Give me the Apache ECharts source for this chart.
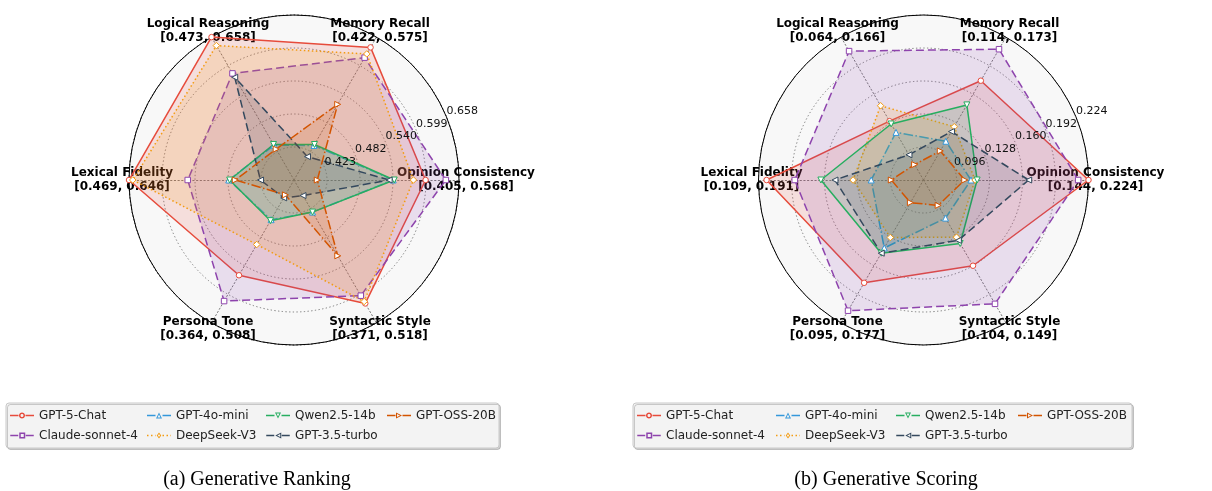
<!DOCTYPE html>
<html>
<head>
<meta charset="utf-8">
<script src="https://cdn.jsdelivr.net/npm/echarts@6/dist/echarts.min.js"></script>
<style>
  html, body { margin: 0; padding: 0; background: #fff; }
  #chart { width: 1212px; height: 491px; }
</style>
</head>
<body>
<div id="chart"></div>
<script>
// Radar axes, counter-clockwise from the right
const dims = ['Opinion Consistency', 'Memory Recall', 'Logical Reasoning', 'Lexical Fidelity', 'Persona Tone', 'Syntactic Style'];
const models = ['GPT-5-Chat', 'Claude-sonnet-4', 'GPT-4o-mini', 'DeepSeek-V3', 'Qwen2.5-14b', 'GPT-3.5-turbo', 'GPT-OSS-20B'];

// Per-axis ranges
const rankLow   = [0.405, 0.422, 0.473, 0.469, 0.364, 0.371];
const rankHigh  = [0.568, 0.575, 0.658, 0.646, 0.508, 0.518];
const scoreLow  = [0.144, 0.114, 0.064, 0.109, 0.095, 0.104];
const scoreHigh = [0.224, 0.173, 0.166, 0.191, 0.177, 0.149];

// Ring labels (rings at 20% steps of the radius)
const rankTicks  = ['', '0.423', '0.482', '0.540', '0.599', '0.658'];
const scoreTicks = ['', '0.096', '0.128', '0.160', '0.192', '0.224'];

// (a) Generative Ranking
const rankGPT5     = [0.535, 0.564, 0.658, 0.646, 0.460, 0.498];
const rankClaude   = [0.555, 0.553, 0.611, 0.583, 0.486, 0.490];
const rankGPT4oMini= [0.503, 0.459, 0.518, 0.539, 0.404, 0.404];
const rankDeepSeek = [0.523, 0.557, 0.647, 0.642, 0.429, 0.496];
const rankQwen     = [0.504, 0.460, 0.519, 0.538, 0.405, 0.404];
const rankGPT35    = [0.499, 0.447, 0.606, 0.505, 0.382, 0.387];
const rankGPTOSS   = [0.428, 0.503, 0.513, 0.532, 0.379, 0.449];

// (b) Generative Scoring
const scoreGPT5     = [0.224, 0.155, 0.106, 0.187, 0.154, 0.131];
const scoreClaude   = [0.219, 0.168, 0.156, 0.173, 0.170, 0.143];
const scoreGPT4oMini= [0.167, 0.130, 0.098, 0.135, 0.134, 0.116];
const scoreDeepSeek = [0.169, 0.136, 0.117, 0.144, 0.128, 0.122];
const scoreQwen     = [0.170, 0.145, 0.104, 0.160, 0.137, 0.124];
const scoreGPT35    = [0.195, 0.134, 0.082, 0.153, 0.137, 0.123];
const scoreGPTOSS   = [0.164, 0.126, 0.075, 0.125, 0.108, 0.112];

const rankValues  = [rankGPT5, rankClaude, rankGPT4oMini, rankDeepSeek, rankQwen, rankGPT35, rankGPTOSS];
const scoreValues = [scoreGPT5, scoreClaude, scoreGPT4oMini, scoreDeepSeek, scoreQwen, scoreGPT35, scoreGPTOSS];

// Styling per model
const colors  = ['#e74c3c', '#8e44ad', '#3498db', '#f39c12', '#27ae60', '#34495e', '#d35400'];
const dashes  = ['solid', [8, 4], [9.6, 2.4, 1.5, 2.4], [1.5, 2.5], 'solid', [8, 4], [9.6, 2.4, 1.5, 2.4]];
const markers = ['circle', 'square', 'tri-up', 'diamond', 'tri-down', 'tri-left', 'tri-right'];
const symbolOf = { 'circle': ['circle', 0], 'square': ['rect', 0], 'tri-up': ['triangle', 0], 'diamond': ['diamond', 0],
                   'tri-down': ['triangle', 180], 'tri-left': ['triangle', 90], 'tri-right': ['triangle', -90] };
const sizeOf = { 'circle': 5.5, 'square': 5.5, 'tri-up': 6, 'diamond': 6.5, 'tri-down': 6, 'tri-left': 6, 'tri-right': 6 };

const FONT = 'DejaVu Sans';

// ---- legend handle: dashed line with a hollow marker, as one path ----
function rectPath(x, y, w, h) {
  return 'M' + x + ' ' + y + 'L' + (x + w) + ' ' + y + 'L' + (x + w) + ' ' + (y + h) + 'L' + x + ' ' + (y + h) + 'Z';
}
function polyPath(pts) {
  return 'M' + pts.map(p => p[0].toFixed(2) + ' ' + p[1].toFixed(2)).join('L') + 'Z';
}
function markerPoints(kind, cx, cy, h) {
  if (kind === 'circle') {
    const pts = [];
    for (let k = 0; k < 20; k++) { const a = k / 20 * Math.PI * 2; pts.push([cx + h * Math.cos(a), cy + h * Math.sin(a)]); }
    return pts;
  }
  if (kind === 'square') return [[cx - h, cy - h], [cx + h, cy - h], [cx + h, cy + h], [cx - h, cy + h]];
  if (kind === 'diamond') return [[cx, cy - h], [cx + h * 0.75, cy], [cx, cy + h], [cx - h * 0.75, cy]];
  if (kind === 'tri-up') return [[cx, cy - h], [cx + h, cy + h], [cx - h, cy + h]];
  if (kind === 'tri-down') return [[cx - h, cy - h], [cx + h, cy - h], [cx, cy + h]];
  if (kind === 'tri-left') return [[cx - h, cy], [cx + h, cy - h], [cx + h, cy + h]];
  return [[cx - h, cy - h], [cx + h, cy], [cx - h, cy + h]];
}
function legendIcon(dash, kind) {
  const W = 24, H = 6, cy = H / 2, lw = 1.5, cx = W / 2, h = H / 2;
  const pat = Array.isArray(dash) ? dash : null;
  let d = '';
  function segs(a, b) {
    if (!pat) { d += rectPath(a, cy - lw / 2, b - a, lw); return; }
    let x = a, k = 0;
    while (x < b) {
      const len = pat[k % pat.length];
      const e = Math.min(x + len, b);
      if (k % 2 === 0) d += rectPath(x, cy - lw / 2, e - x, lw);
      x += len; k++;
    }
  }
  segs(0, cx - h - 0.5);
  segs(cx + h + 0.5, W);
  const outer = markerPoints(kind, cx, cy, h);
  let mx = 0, my = 0;
  outer.forEach(p => { mx += p[0]; my += p[1]; });
  mx /= outer.length; my /= outer.length;
  const inner = outer.map(p => [mx + (p[0] - mx) * 0.5, my + (p[1] - my) * 0.5]).reverse();
  d += polyPath(outer) + polyPath(inner);
  return 'path://' + d;
}

const gridLine = { color: '#7a7a7a', width: 1, type: [1.3, 2.4] };

function buildRadar(center, low, high) {
  return {
    center: center,
    radius: 165,
    startAngle: 0,
    shape: 'circle',
    splitNumber: 5,
    nameGap: 7,
    indicator: dims.map((n, i) => ({
      name: n + '\n[' + low[i].toFixed(3) + ', ' + high[i].toFixed(3) + ']',
      min: low[i], max: high[i]
    })),
    axisName: {
      color: '#000', fontWeight: 'bold', fontSize: 12, fontFamily: FONT,
      align: 'center', verticalAlign: 'middle', lineHeight: 14
    },
    axisLine: { lineStyle: gridLine },
    splitLine: { lineStyle: gridLine },
    splitArea: { show: true, areaStyle: { color: ['#f8f8f8'] } },
    axisTick: { show: false },
    axisLabel: { show: false }
  };
}

function buildSeries(radarIndex, values) {
  return models.map((m, i) => {
    const sym = symbolOf[markers[i]];
    return {
      type: 'radar',
      radarIndex: radarIndex,
      name: m,
      symbol: sym[0],
      symbolRotate: sym[1],
      symbolSize: sizeOf[markers[i]],
      lineStyle: { color: colors[i], width: 1.5, type: dashes[i] },
      itemStyle: { color: '#ffffff', borderColor: colors[i], borderWidth: 1 },
      areaStyle: { color: colors[i], opacity: 0.15 },
      emphasis: { disabled: true },
      z: 2,
      data: [{ name: m, value: values[i] }]
    };
  });
}

function buildLegends(colLefts, top) {
  const out = [];
  colLefts.forEach((left, c) => {
    const items = models.slice(c * 2, c * 2 + 2).map((m, j) => {
      const i = c * 2 + j;
      return { name: m, icon: legendIcon(dashes[i], markers[i]), itemStyle: { color: colors[i], borderWidth: 0 } };
    });
    out.push({
      orient: 'vertical', left: left, top: top, padding: 0,
      itemWidth: 24, itemHeight: 6, itemGap: 7,
      selectedMode: false,
      textStyle: { fontFamily: FONT, fontSize: 12, color: '#222', lineHeight: 13 },
      data: items
    });
  });
  return out;
}

function buildPolar(center) {
  return { center: center, radius: 165 };
}
function buildAngleAxis(idx) {
  return {
    polarIndex: idx, type: 'value', min: 0, max: 360, startAngle: 22.5, z: 1,
    axisLine: { show: true, lineStyle: { color: '#000', width: 1 } },
    axisTick: { show: false }, axisLabel: { show: false }, splitLine: { show: false }
  };
}
function buildRadiusAxis(idx, ticks) {
  return {
    polarIndex: idx, type: 'value', min: 0, max: 1, interval: 0.2, z: 10,
    axisLine: { show: false }, axisTick: { show: false }, splitLine: { show: false },
    axisLabel: {
      show: true, margin: 0, align: 'left', verticalAlign: 'bottom',
      fontFamily: FONT, fontSize: 11, color: '#111',
      formatter: v => ticks[Math.round(v / 0.2)] || ''
    }
  };
}

const centerA = [294, 180];
const centerB = [923.5, 180];

const option = {
  animation: false,
  backgroundColor: '#ffffff',
  radar: [buildRadar(centerA, rankLow, rankHigh), buildRadar(centerB, scoreLow, scoreHigh)],
  polar: [buildPolar(centerA), buildPolar(centerB)],
  angleAxis: [buildAngleAxis(0), buildAngleAxis(1)],
  radiusAxis: [buildRadiusAxis(0, rankTicks), buildRadiusAxis(1, scoreTicks)],
  legend: buildLegends([10, 147, 266, 387], 409).concat(buildLegends([637, 776, 896, 1018], 409)),
  title: [
    { text: '(a) Generative Ranking', left: 252, top: 465, textAlign: 'center',
      textStyle: { fontFamily: 'Liberation Serif', fontSize: 20, fontWeight: 'normal', color: '#000' } },
    { text: '(b) Generative Scoring', left: 881, top: 465, textAlign: 'center',
      textStyle: { fontFamily: 'Liberation Serif', fontSize: 20, fontWeight: 'normal', color: '#000' } }
  ],
  graphic: [
    { type: 'rect', z: -10, shape: { x: 6, y: 403, width: 493, height: 45, r: 3 },
      style: { fill: '#f3f3f3', stroke: '#c8c8c8', lineWidth: 1, shadowColor: 'rgba(0,0,0,0.18)', shadowOffsetX: 1.5, shadowOffsetY: 1.5 } },
    { type: 'rect', z: -10, shape: { x: 633, y: 403, width: 499, height: 45, r: 3 },
      style: { fill: '#f3f3f3', stroke: '#c8c8c8', lineWidth: 1, shadowColor: 'rgba(0,0,0,0.18)', shadowOffsetX: 1.5, shadowOffsetY: 1.5 } }
  ],
  series: buildSeries(0, rankValues).concat(buildSeries(1, scoreValues))
};

const chart = echarts.init(document.getElementById('chart'), null, { renderer: 'canvas' });
chart.setOption(option);
</script>
</body>
</html>
